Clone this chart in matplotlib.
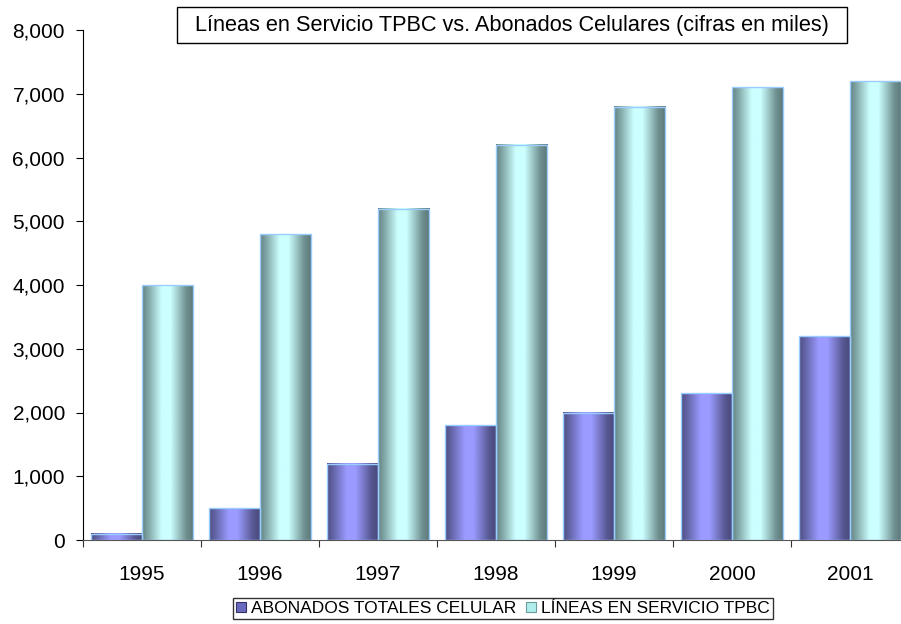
import numpy as np
import matplotlib
matplotlib.use("Agg")
import matplotlib.pyplot as plt
from matplotlib.patches import Rectangle, Patch
from matplotlib.ticker import FuncFormatter, FixedLocator

plt.rcParams['font.family'] = ['Liberation Sans', 'DejaVu Sans']

years = ["1995", "1996", "1997", "1998", "1999", "2000", "2001"]
abonados_celular = [100, 500, 1200, 1800, 2000, 2300, 3200]
lineas_tpbc = [4000, 4800, 5200, 6200, 6800, 7100, 7200]
series_labels = ["ABONADOS TOTALES CELULAR", "LÍNEAS EN SERVICIO TPBC"]
title_text = "Líneas en Servicio TPBC vs. Abonados Celulares (cifras en miles)"
yticks = [0, 1000, 2000, 3000, 4000, 5000, 6000, 7000, 8000]

W, H = 901, 624
fig = plt.figure(figsize=(W / 100, H / 100), dpi=100)
fig.patch.set_facecolor("white")

# plot area in pixels: left 83, right 909 (clipped by figure), top 30, bottom 540
ax = fig.add_axes([83 / W, (H - 540) / H, (909 - 83) / W, (540 - 30) / H])
ax.set_facecolor("white")

x = np.arange(len(years))
bw = 0.436
off = 0.218

def gradient_img(dark, light, n=200):
    t = np.linspace(0, 1, n)
    s = np.interp(t, [0, 0.12, 0.38, 0.55, 0.85, 1.0], [0.08, 0.35, 1.0, 1.0, 0.2, 0.0])
    dark = np.array(matplotlib.colors.to_rgb(dark))
    light = np.array(matplotlib.colors.to_rgb(light))
    row = dark[None, :] * (1 - s[:, None]) + light[None, :] * s[:, None]
    return row[None, :, :]

pur_img = gradient_img("#474778", "#9a9aff")
cyan_img = gradient_img("#5a7676", "#ccffff")

b1 = ax.bar(x - off, abonados_celular, bw, color="#8080d0", edgecolor="none", zorder=2)
b2 = ax.bar(x + off, lineas_tpbc, bw, color="#a0e0e0", edgecolor="none", zorder=2)

for bars, img in ((b1, pur_img), (b2, cyan_img)):
    for r in bars:
        x0, w, h = r.get_x(), r.get_width(), r.get_height()
        ax.imshow(img, extent=(x0, x0 + w, 0, h), aspect="auto", zorder=3,
                  interpolation="bilinear")
        ax.add_patch(Rectangle((x0, 0), w, h, fill=False, edgecolor="#99ccff",
                               linewidth=1.0, zorder=4))

ax.set_xlim(-0.5, len(years) - 0.5)
ax.set_ylim(0, 8000)
ax.set_yticks(yticks)
ax.yaxis.set_major_formatter(FuncFormatter(lambda v, p: f"{int(v):,}"))

ax.xaxis.set_major_locator(FixedLocator(np.arange(len(years) + 1) - 0.5))
ax.xaxis.set_major_formatter(FuncFormatter(lambda v, p: ""))
ax.xaxis.set_minor_locator(FixedLocator(x))
ax.set_xticklabels(years, minor=True)
ax.tick_params(axis="x", which="minor", length=0, pad=18, labelsize=15)
ax.tick_params(axis="x", which="major", length=5, direction="out", color="#333333")
ax.tick_params(axis="y", length=5, direction="out", labelsize=15, pad=8)

for s in ("top", "right"):
    ax.spines[s].set_visible(False)
ax.spines["left"].set_color("black")
ax.spines["bottom"].set_color("#555555")
ax.spines["left"].set_zorder(5)
ax.spines["bottom"].set_zorder(5)

# title box
tx0, ty0, tx1, ty1 = 177, 7, 847, 43
fig.patches.append(Rectangle((tx0 / W, 1 - ty1 / H), (tx1 - tx0) / W, (ty1 - ty0) / H,
                             transform=fig.transFigure, facecolor="white",
                             edgecolor="black", linewidth=1.0, zorder=10))
fig.text((tx0 + tx1) / 2 / W, 1 - (ty0 + ty1) / 2 / H, title_text, ha="center",
         va="center", fontsize=15.7, zorder=11)

handles = [Patch(facecolor="#6a6ac0", edgecolor="#333366", linewidth=0.8),
           Patch(facecolor="#b0eeee", edgecolor="#6a9a9a", linewidth=0.8)]
leg = fig.legend(handles, series_labels, loc="center", ncol=2,
                 bbox_to_anchor=(503 / W, 1 - 608.5 / H), fontsize=12.5,
                 frameon=True, fancybox=False, edgecolor="black",
                 handlelength=0.55, handleheight=0.55, handletextpad=0.3,
                 columnspacing=0.6, borderpad=0.2, borderaxespad=0)
leg.get_frame().set_linewidth(1.0)

fig.savefig("out.png", dpi=100, facecolor="white")
